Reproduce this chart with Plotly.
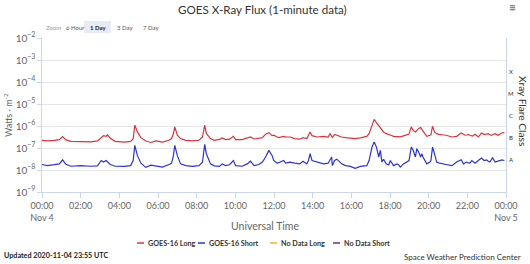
import math
import plotly.graph_objects as go

# ---- data ----
times = ["00:00","00:17","00:38","00:54","01:04","01:14","01:30","02:01","02:32","02:52",
         "03:04","03:11","03:19","03:23","03:32","03:47","04:15","04:35","04:43","04:48",
         "04:56","05:07","05:22","05:38","05:53","06:14","06:34","06:42","06:47","06:52",
         "07:00","07:10","07:26","07:47","08:07","08:18","08:25","08:30","08:43","08:54",
         "09:11","09:19","09:30","09:42","09:54","10:01","10:21","10:37","10:47","10:58",
         "11:13","11:24","11:34","11:44","11:54","11:59","12:10","12:15","12:30","12:36",
         "12:50","13:04","13:20","13:30","13:42","13:47","13:52","13:58","14:14","14:34",
         "14:48","14:54","14:59","15:01","15:08","15:15","15:19","15:30","15:42","15:57",
         "16:12","16:28","16:48","16:55","17:04","17:11","17:18","17:25","17:30","17:35",
         "17:40","17:48","17:56","18:01","18:11","18:22","18:27","18:32","18:42","18:52",
         "18:57","18:59","19:06","19:12","19:19","19:23","19:29","19:35","19:39","19:42",
         "19:54","20:04","20:07","20:12","20:18","20:25","20:31","20:41","20:54","21:12",
         "21:27","21:41","21:48","21:53","21:58","22:03","22:08","22:14","22:16","22:24",
         "22:34","22:44","22:52","23:00","23:05","23:10","23:15","23:18","23:26","23:36",
         "23:47","23:55"]

goes16_long = [2.24e-7,2.09e-7,2.24e-7,2.40e-7,3.31e-7,2.34e-7,2.00e-7,2.00e-7,1.91e-7,2.09e-7,
               3.09e-7,3.63e-7,3.39e-7,3.98e-7,2.75e-7,2.00e-7,1.86e-7,2.00e-7,2.63e-7,1.10e-6,
               5.37e-7,2.95e-7,2.09e-7,1.78e-7,2.09e-7,1.86e-7,2.24e-7,2.69e-7,3.98e-7,9.12e-7,
               3.80e-7,2.69e-7,2.24e-7,2.09e-7,2.24e-7,3.16e-7,1.10e-6,4.57e-7,2.69e-7,2.24e-7,
               2.45e-7,2.88e-7,2.40e-7,2.51e-7,3.39e-7,2.40e-7,2.40e-7,2.88e-7,3.16e-7,2.57e-7,
               2.69e-7,2.95e-7,4.27e-7,5.01e-7,3.63e-7,3.80e-7,3.16e-7,2.95e-7,3.39e-7,3.20e-7,
               3.16e-7,2.69e-7,2.51e-7,2.95e-7,2.69e-7,3.80e-7,5.37e-7,3.63e-7,3.16e-7,3.39e-7,
               3.16e-7,4.47e-7,2.95e-7,3.00e-7,4.17e-7,3.80e-7,3.60e-7,3.16e-7,2.95e-7,2.80e-7,
               2.69e-7,2.88e-7,3.39e-7,4.47e-7,1.10e-6,2.00e-6,1.41e-6,1.00e-6,7.76e-7,6.50e-7,
               5.37e-7,4.47e-7,4.20e-7,3.90e-7,3.39e-7,3.30e-7,3.16e-7,3.20e-7,3.55e-7,3.90e-7,
               4.17e-7,4.30e-7,9.12e-7,6.31e-7,5.37e-7,6.50e-7,7.76e-7,8.51e-7,7.00e-7,5.37e-7,
               3.39e-7,3.80e-7,4.00e-7,9.77e-7,5.37e-7,4.50e-7,4.17e-7,4.00e-7,3.80e-7,3.16e-7,
               3.39e-7,4.79e-7,4.20e-7,3.80e-7,3.90e-7,4.17e-7,3.80e-7,3.39e-7,3.50e-7,4.17e-7,
               3.16e-7,4.79e-7,4.17e-7,4.30e-7,4.47e-7,4.00e-7,3.80e-7,4.00e-7,4.47e-7,3.80e-7,
               4.79e-7,5.01e-7]

goes16_short = [1.78e-8,1.58e-8,1.74e-8,1.90e-8,2.90e-8,1.82e-8,1.48e-8,1.58e-8,1.48e-8,1.55e-8,
                2.70e-8,2.29e-8,2.70e-8,2.40e-8,1.78e-8,1.48e-8,1.45e-8,1.58e-8,2.70e-8,1.32e-7,
                4.60e-8,2.04e-8,1.32e-8,1.66e-8,1.48e-8,1.35e-8,1.78e-8,2.00e-8,3.80e-8,1.32e-7,
                4.50e-8,1.90e-8,1.58e-8,1.45e-8,1.58e-8,2.24e-8,1.48e-7,5.50e-8,1.90e-8,1.55e-8,
                1.45e-8,1.90e-8,1.58e-8,1.74e-8,2.70e-8,1.58e-8,1.48e-8,1.90e-8,2.51e-8,1.58e-8,
                1.78e-8,2.29e-8,3.90e-8,7.80e-8,4.60e-8,2.70e-8,2.04e-8,2.20e-8,2.70e-8,2.04e-8,
                2.29e-8,2.04e-8,1.90e-8,2.51e-8,1.90e-8,2.70e-8,5.50e-8,2.70e-8,2.29e-8,1.90e-8,
                2.04e-8,3.10e-8,3.90e-8,1.58e-8,2.70e-8,3.10e-8,2.70e-8,1.90e-8,1.58e-8,1.45e-8,
                1.20e-8,1.45e-8,1.58e-8,2.70e-8,1.10e-7,1.86e-7,1.10e-7,3.90e-8,7.80e-8,2.29e-8,
                3.10e-8,1.90e-8,1.70e-8,2.70e-8,1.58e-8,1.90e-8,1.70e-8,1.35e-8,1.90e-8,2.29e-8,
                2.50e-8,2.70e-8,1.10e-7,7.80e-8,3.90e-8,9.30e-8,6.50e-8,3.90e-8,5.50e-8,4.00e-8,
                1.90e-8,2.29e-8,2.70e-8,1.10e-7,5.50e-8,2.29e-8,2.10e-8,1.90e-8,1.78e-8,1.58e-8,
                2.29e-8,2.90e-8,1.90e-8,2.10e-8,2.29e-8,2.10e-8,2.04e-8,2.70e-8,2.50e-8,2.04e-8,
                2.70e-8,3.50e-8,2.70e-8,2.90e-8,2.50e-8,2.29e-8,3.00e-8,3.70e-8,2.29e-8,2.51e-8,
                2.90e-8,2.70e-8]

x_tick_labels = ["00:00<br>Nov 4","02:00","04:00","06:00","08:00","10:00","12:00",
                 "14:00","16:00","18:00","20:00","22:00","00:00<br>Nov 5"]
flare_classes = ["X", "M", "C", "B", "A"]
flare_class_pos = [10**-3.5, 10**-4.5, 10**-5.5, 10**-6.5, 10**-7.5]
legend_names = ["GOES-16 Long", "GOES-16 Short", "No Data Long", "No Data Short"]
legend_colors = ["#d9343c", "#2a34d6", "#f2b233", "#6a2a8a"]
zoom_buttons = ["6 Hour", "1 Day", "3 Day", "7 Day"]

# ---- geometry helpers (pixel -> paper) ----
W, H = 530, 264
L, R, T, B = 42, 24, 38, 72
PW, PH = W - L - R, H - T - B

def px(x):
    return (x - L) / PW

def py(y):
    return (H - B - y) / PH

x_dt = ["2020-11-04 " + t for t in times]
tick_vals = ["2020-11-04 %02d:00" % h for h in range(0, 24, 2)] + ["2020-11-05 00:00"]

FONT = "Lato, 'Liberation Sans', sans-serif"

fig = go.Figure()
fig.add_trace(go.Scatter(x=x_dt, y=goes16_long, mode="lines", name=legend_names[0],
                         line=dict(color=legend_colors[0], width=1.2), showlegend=False))
fig.add_trace(go.Scatter(x=x_dt, y=goes16_short, mode="lines", name=legend_names[1],
                         line=dict(color=legend_colors[1], width=1.2), showlegend=False))

annotations = []
shapes = []
# title
annotations.append(dict(text="GOES X-Ray Flux (1-minute data)", x=px(262), y=py(9),
                        xref="paper", yref="paper", showarrow=False, xanchor="center",
                        yanchor="middle", font=dict(size=11.6, color="#333333", family=FONT)))
# hamburger
annotations.append(dict(text="≡", x=px(512), y=py(7), xref="paper", yref="paper",
                        showarrow=False, xanchor="center", yanchor="middle",
                        font=dict(size=12, color="#666666", family=FONT)))
# zoom buttons
annotations.append(dict(text="Zoom", x=px(44), y=py(27), xref="paper", yref="paper",
                        showarrow=False, xanchor="left", yanchor="middle",
                        font=dict(size=6, color="#999999", family=FONT)))
btn_x = [64, 88, 115, 141]
for lbl, bx in zip(zoom_buttons, btn_x):
    sel = (lbl == "1 Day")
    annotations.append(dict(text=("<b>%s</b>" % lbl) if sel else lbl, x=px(bx), y=py(27),
                            xref="paper", yref="paper", showarrow=False, xanchor="left",
                            yanchor="middle",
                            font=dict(size=6, color="#222222" if sel else "#555555", family=FONT)))
shapes.append(dict(type="rect", xref="paper", yref="paper", x0=px(84), x1=px(111),
                   y0=py(33), y1=py(21), fillcolor="#e6ebf5", line=dict(width=0), layer="below"))

# y-axis title
annotations.append(dict(text="Watts · m<sup>-2</sup>", x=px(8), y=py(115), xref="paper",
                        yref="paper", showarrow=False, textangle=-90, xanchor="center",
                        yanchor="middle", font=dict(size=9, color="#666666", family=FONT)))
# right axis: flare class
for c, v in zip(flare_classes, flare_class_pos):
    annotations.append(dict(text=c, x=px(511), y=math.log10(v), xref="paper", yref="y",
                            showarrow=False, xanchor="center", yanchor="middle",
                            font=dict(size=6, color="#333333", family=FONT)))
annotations.append(dict(text="Xray Flare Class", x=px(523), y=py(111), xref="paper",
                        yref="paper", showarrow=False, textangle=90, xanchor="center",
                        yanchor="middle", font=dict(size=10.2, color="#333333", family=FONT)))
# x-axis title
annotations.append(dict(text="Universal Time", x=px(265), y=py(226), xref="paper",
                        yref="paper", showarrow=False, xanchor="center", yanchor="middle",
                        font=dict(size=10.5, color="#666666", family=FONT)))
# legend
leg_x = [137, 198, 270, 333]
for name, col, lx in zip(legend_names, legend_colors, leg_x):
    shapes.append(dict(type="line", xref="paper", yref="paper", x0=px(lx), x1=px(lx + 7),
                       y0=py(243), y1=py(243), line=dict(color=col, width=1.5)))
    annotations.append(dict(text="<b>%s</b>" % name, x=px(lx + 9), y=py(243), xref="paper",
                            yref="paper", showarrow=False, xanchor="left", yanchor="middle",
                            font=dict(size=7.2, color="#333333", family=FONT)))
# footer
annotations.append(dict(text="<b>Updated 2020-11-04 23:55 UTC</b>", x=px(2), y=py(255),
                        xref="paper", yref="paper", showarrow=False, xanchor="left",
                        yanchor="middle", font=dict(size=7.2, color="#222222", family=FONT)))
annotations.append(dict(text="Space Weather Prediction Center", x=px(523), y=py(257),
                        xref="paper", yref="paper", showarrow=False, xanchor="right",
                        yanchor="middle", font=dict(size=8, color="#333333", family=FONT)))

fig.update_layout(
    width=W, height=H,
    margin=dict(l=L, r=R, t=T, b=B, pad=0),
    paper_bgcolor="white", plot_bgcolor="white",
    showlegend=False,
    annotations=annotations, shapes=shapes,
    xaxis=dict(type="date", range=["2020-11-04 00:00", "2020-11-05 00:00"],
               tickvals=tick_vals, ticktext=x_tick_labels, showgrid=False,
               showline=True, linecolor="#ccd6eb", linewidth=1,
               ticks="outside", ticklen=5, tickcolor="#ccd6eb",
               tickfont=dict(size=9, color="#666666", family=FONT), zeroline=False),
    yaxis=dict(type="log", range=[-9, -2], dtick=1, exponentformat="power",
               showgrid=True, gridcolor="#e6e6e6", showline=True, linecolor="#ccd6eb",
               mirror=True, ticks="outside", ticklen=4, tickcolor="#ccd6eb",
               tickfont=dict(size=8, color="#666666", family=FONT), zeroline=False),
)

fig.write_html("out.html")
